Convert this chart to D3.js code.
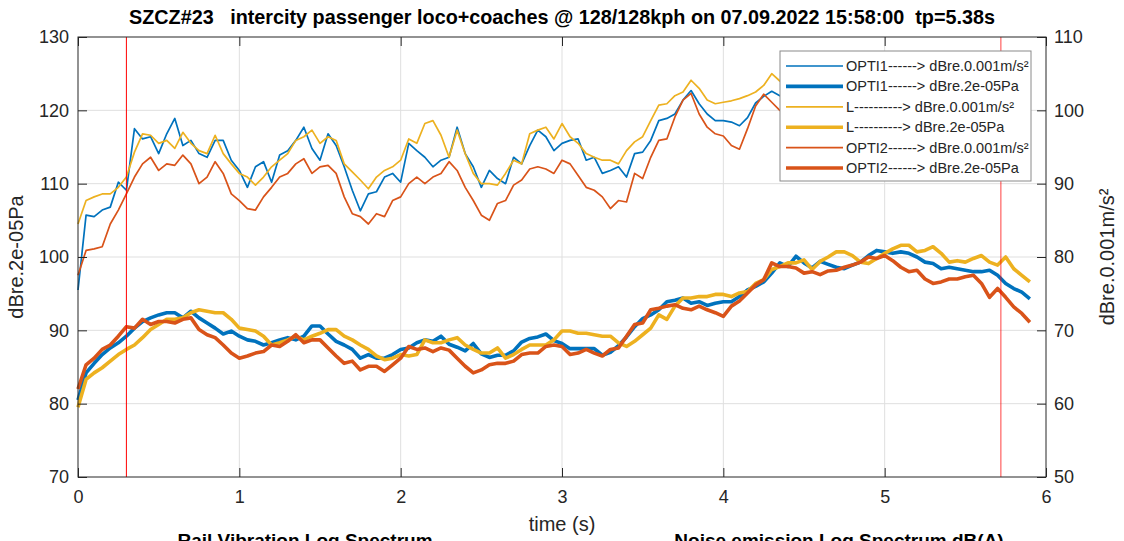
<!DOCTYPE html>
<html lang="en">
<head>
<meta charset="UTF-8">
<script src="https://cdn.jsdelivr.net/npm/d3@7/dist/d3.min.js"></script>
<title>SZCZ#23 levels</title>
<style>
  body { margin: 0; background: #ffffff; }
  svg { font-family: "Liberation Sans", Arial, sans-serif; background: #ffffff; }
  .grid line { stroke: #dfdfdf; stroke-width: 1; }
  .axis text { font-size: 18px; fill: #262626; }
  .axis line { stroke: #262626; }
  .axis path { display: none; }
</style>
</head>
<body>
<div id="chart"></div>
<script>
// sampling step of the traces (s)
var dt = 0.05;

// dBre.0.001m/s² (right axis)
var opti1Vib = [75.5, 85.7, 85.5, 86.4, 86.8, 90.2, 89.1, 97.5, 96.1, 96.4,
  94.1, 96.8, 98.9, 95.2, 95.9, 94.1, 93.6, 95.9, 95.9, 93.2,
  91.8, 89.5, 92.3, 93.0, 90.2, 93.9, 94.5, 95.9, 97.7, 94.8,
  93.2, 96.8, 95.2, 92.3, 89.1, 86.3, 88.6, 88.9, 90.9, 91.4,
  90.2, 95.5, 94.5, 93.6, 92.3, 93.2, 93.6, 97.7, 94.1, 92.3,
  89.5, 91.8, 90.7, 90.0, 93.6, 92.7, 95.2, 97.3, 96.4, 94.5,
  95.5, 95.9, 96.1, 93.2, 93.6, 91.4, 91.8, 92.3, 90.9, 94.1,
  94.3, 95.9, 98.6, 98.9, 99.5, 101.4, 102.7, 100.9, 99.5, 98.6,
  98.6, 98.4, 97.9, 99.0, 101.0, 101.9, 102.6, 102.0, 101.5, 101.0,
  100.5, 101.2, 100.8, 100.0, 99.5, 100.2, 100.8, 101.0, 100.5, 100.0,
  99.6, 99.0, 99.4, 99.8, 99.2, 98.6, 98.9, 99.2, 98.7, 98.2,
  97.8, 98.0, 97.6, 97.2, 97.0, 96.8, 96.5, 96.3, 96.1];
var lVib = [84.5, 87.7, 88.2, 88.6, 88.6, 89.5, 90.9, 94.3, 96.8, 96.6,
  95.5, 95.9, 94.8, 97.0, 95.5, 94.5, 94.1, 96.6, 94.1, 92.7,
  91.4, 90.9, 89.8, 90.9, 92.3, 93.2, 94.1, 95.9, 96.4, 97.3,
  95.5, 96.4, 95.9, 92.7, 91.6, 90.5, 89.3, 90.9, 91.8, 92.3,
  93.2, 96.1, 95.5, 98.2, 98.6, 96.6, 93.6, 97.3, 94.1, 91.4,
  90.0, 90.0, 89.8, 91.4, 93.2, 92.7, 96.8, 97.3, 97.7, 96.1,
  98.2, 96.4, 95.5, 94.1, 93.6, 93.2, 93.2, 92.7, 94.5, 95.7,
  96.4, 98.6, 100.7, 100.9, 102.0, 102.5, 104.1, 103.0, 101.4, 100.9,
  101.1, 101.3, 101.6, 102.0, 102.5, 103.4, 105.0, 104.0, 103.2, 102.5,
  103.0, 102.4, 101.8, 101.5, 102.0, 102.6, 102.0, 101.5, 101.0, 101.4,
  100.8, 100.2, 100.6, 101.0, 100.4, 99.8, 100.0, 100.3, 99.6, 99.2,
  99.5, 99.0, 98.6, 98.8, 98.4, 98.0, 97.8, 97.6, 97.5];
var opti2Vib = [77.5, 80.9, 81.1, 81.4, 84.5, 86.4, 88.6, 90.9, 92.7, 93.6,
  91.8, 92.7, 92.5, 93.9, 92.7, 90.0, 90.9, 93.0, 91.4, 88.6,
  87.7, 86.6, 86.4, 88.2, 89.5, 90.9, 91.4, 92.7, 93.4, 91.4,
  92.3, 92.5, 91.4, 88.2, 85.9, 85.5, 84.5, 85.9, 85.5, 87.7,
  88.2, 90.0, 90.9, 90.0, 90.9, 91.4, 93.0, 91.8, 89.5, 87.7,
  85.7, 85.0, 87.3, 87.7, 89.8, 90.5, 92.0, 92.3, 92.0, 91.4,
  93.2, 92.7, 91.1, 89.5, 89.1, 88.2, 86.6, 87.7, 87.5, 91.4,
  90.7, 93.6, 95.9, 96.1, 99.1, 101.4, 102.3, 99.5, 97.7, 96.8,
  96.5, 95.2, 94.7, 97.5, 100.6, 102.2, 101.1, 100.0, 99.2, 98.5,
  97.8, 98.4, 97.6, 97.0, 96.5, 97.2, 97.8, 97.4, 96.8, 96.0,
  95.4, 95.8, 96.2, 95.6, 95.0, 94.6, 95.0, 94.4, 93.8, 94.2,
  93.6, 93.0, 92.6, 92.9, 92.4, 91.9, 91.6, 91.3, 91.1];

// dBre.2e-05Pa (left axis)
var opti1Noise = [80.5, 84.2, 85.5, 86.7, 87.6, 88.3, 89.2, 90.3, 91.2, 91.7,
  92.1, 92.4, 92.4, 91.7, 92.6, 91.7, 91.0, 90.3, 89.5, 89.9,
  89.2, 88.7, 88.5, 88.0, 88.3, 88.7, 89.0, 88.7, 89.2, 90.6,
  90.6, 89.5, 88.5, 88.0, 87.4, 86.2, 86.7, 86.2, 86.2, 86.7,
  87.4, 87.6, 88.3, 88.7, 88.5, 89.2, 88.1, 87.7, 87.2, 88.2,
  86.8, 86.3, 86.6, 86.6, 87.2, 88.4, 88.9, 89.1, 89.5, 88.6,
  88.2, 87.5, 87.5, 87.5, 87.5, 86.6, 87.0, 87.9, 89.1, 90.5,
  91.6, 92.1, 92.8, 93.9, 94.1, 94.4, 93.7, 93.9, 93.4, 93.7,
  93.9, 93.9, 94.6, 95.5, 96.0, 96.6, 97.8, 99.2, 98.7, 100.1,
  99.2, 98.5, 99.4, 99.0, 98.6, 98.4, 98.9, 99.3, 100.2, 100.9,
  100.7, 100.5, 100.7, 100.5, 100.0, 99.3, 99.1, 98.4, 98.6, 98.4,
  98.2, 98.0, 98.0, 98.2, 97.5, 96.4, 95.7, 95.2, 94.3];
var lNoise = [79.5, 83.3, 84.2, 84.9, 85.8, 86.7, 87.4, 88.0, 89.0, 90.1,
  90.8, 91.5, 91.5, 91.7, 92.4, 92.8, 92.6, 92.4, 92.4, 91.5,
  90.3, 90.1, 89.9, 89.2, 88.0, 88.3, 88.7, 89.2, 88.7, 89.2,
  89.6, 90.1, 90.1, 89.2, 88.7, 88.0, 87.4, 86.5, 86.0, 86.2,
  86.7, 86.5, 86.7, 88.7, 88.3, 88.3, 88.7, 89.0, 88.0, 87.4,
  86.9, 86.9, 87.6, 86.2, 86.7, 87.4, 88.0, 88.0, 88.0, 88.7,
  89.9, 89.9, 89.6, 89.6, 89.4, 89.2, 89.2, 88.3, 87.8, 88.5,
  89.4, 90.3, 92.1, 91.5, 93.3, 94.4, 94.4, 94.6, 94.6, 94.9,
  94.9, 94.6, 95.1, 95.3, 96.4, 96.9, 98.3, 98.7, 99.2, 99.2,
  99.6, 98.3, 99.4, 100.0, 100.7, 100.7, 100.2, 99.3, 99.1, 99.8,
  100.5, 101.1, 101.6, 101.6, 100.7, 100.9, 101.4, 100.5, 99.3, 99.5,
  99.3, 99.8, 100.2, 99.3, 98.9, 100.0, 98.4, 97.5, 96.6];
var opti2Noise = [82.0, 85.3, 86.2, 87.4, 88.0, 89.2, 90.5, 90.3, 91.5, 90.8,
  91.2, 91.2, 91.0, 91.5, 91.7, 90.1, 89.4, 89.0, 88.0, 86.9,
  86.2, 86.5, 86.9, 87.1, 88.0, 87.8, 88.5, 89.4, 88.3, 88.7,
  88.7, 87.6, 86.5, 85.5, 85.8, 84.6, 85.1, 85.1, 84.4, 85.3,
  86.2, 87.8, 87.4, 87.6, 87.1, 87.6, 87.3, 86.2, 85.1, 84.2,
  84.6, 85.3, 85.5, 85.5, 85.8, 86.7, 86.9, 86.9, 87.8, 88.0,
  87.8, 86.7, 86.9, 87.4, 86.9, 86.5, 87.4, 87.6, 89.2, 90.8,
  91.0, 92.8, 93.0, 93.3, 93.5, 93.0, 92.8, 93.3, 92.8, 92.4,
  91.9, 93.3, 94.0, 95.1, 96.2, 96.9, 99.2, 98.7, 98.7, 98.5,
  97.8, 98.0, 97.6, 98.1, 98.2, 98.6, 98.9, 99.3, 100.0, 99.8,
  100.2, 99.5, 98.6, 98.0, 98.2, 97.0, 96.4, 96.6, 97.0, 97.0,
  97.3, 97.5, 96.4, 94.5, 95.7, 94.5, 93.2, 92.3, 91.1];

// window markers (s)
var markers = [0.30, 5.72];

var xTicks = [0, 1, 2, 3, 4, 5, 6];
var yLeftTicks = [70, 80, 90, 100, 110, 120, 130];
var yRightTicks = [50, 60, 70, 80, 90, 100, 110];

var legendLabels = [
  "OPTI1------> dBre.0.001m/s\u00b2",
  "OPTI1------> dBre.2e-05Pa",
  "L----------> dBre.0.001m/s\u00b2",
  "L----------> dBre.2e-05Pa",
  "OPTI2------> dBre.0.001m/s\u00b2",
  "OPTI2------> dBre.2e-05Pa"
];

var blue = "#0072BD", orange = "#D95319", yellow = "#EDB120";

var series = [
  {values: opti1Vib, axis: "right", color: blue, width: 1.7},
  {values: opti1Noise, axis: "left", color: blue, width: 3.6},
  {values: lVib, axis: "right", color: yellow, width: 1.7},
  {values: lNoise, axis: "left", color: yellow, width: 3.6},
  {values: opti2Vib, axis: "right", color: orange, width: 1.7},
  {values: opti2Noise, axis: "left", color: orange, width: 3.6}
];

var W = 1124, H = 541;
var margin = {top: 37, right: 78, bottom: 64, left: 78};
var width = W - margin.left - margin.right;
var height = H - margin.top - margin.bottom;

var svg = d3.select("#chart").append("svg")
  .attr("width", W)
  .attr("height", H);

var g = svg.append("g")
  .attr("transform", "translate(" + margin.left + "," + margin.top + ")");

var x = d3.scaleLinear().domain([0, 6]).range([0, width]);
var yL = d3.scaleLinear().domain([70, 130]).range([height, 0]);
var yR = d3.scaleLinear().domain([50, 110]).range([height, 0]);

// grid
var grid = g.append("g").attr("class", "grid");
grid.selectAll(".gx").data(xTicks.slice(1, -1)).enter().append("line")
  .attr("x1", function(d) { return x(d); })
  .attr("x2", function(d) { return x(d); })
  .attr("y1", 0).attr("y2", height);
grid.selectAll(".gy").data(yLeftTicks.slice(1, -1)).enter().append("line")
  .attr("x1", 0).attr("x2", width)
  .attr("y1", function(d) { return yL(d); })
  .attr("y2", function(d) { return yL(d); });

// traces
series.forEach(function(s) {
  var yy = s.axis == "left" ? yL : yR;
  var line = d3.line()
    .x(function(d, i) { return x(i * dt); })
    .y(function(d) { return yy(d); });
  g.append("path")
    .datum(s.values)
    .attr("fill", "none")
    .attr("stroke", s.color)
    .attr("stroke-width", s.width)
    .attr("stroke-linejoin", "round")
    .attr("d", line);
});

// red markers
g.selectAll(".marker").data(markers).enter().append("line")
  .attr("x1", function(d) { return x(d); })
  .attr("x2", function(d) { return x(d); })
  .attr("y1", 0).attr("y2", height)
  .attr("stroke", "#ff0000")
  .attr("stroke-width", function(d, i) { return i == 0 ? 1 : 1.5; })
  .attr("stroke-opacity", function(d, i) { return i == 0 ? 1 : 0.5; });

// axes (ticks pointing inward)
g.append("g").attr("class", "axis")
  .attr("transform", "translate(0," + height + ")")
  .call(d3.axisBottom(x).tickValues(xTicks).tickFormat(d3.format("d"))
    .tickSizeInner(-9).tickSizeOuter(0).tickPadding(13));
g.append("g").attr("class", "axis")
  .call(d3.axisTop(x).tickValues(xTicks).tickFormat("")
    .tickSizeInner(-9).tickSizeOuter(0));
g.append("g").attr("class", "axis")
  .call(d3.axisLeft(yL).tickValues(yLeftTicks).tickFormat(d3.format("d"))
    .tickSizeInner(-9).tickSizeOuter(0).tickPadding(9));
g.append("g").attr("class", "axis")
  .attr("transform", "translate(" + width + ",0)")
  .call(d3.axisRight(yR).tickValues(yRightTicks).tickFormat(d3.format("d"))
    .tickSizeInner(-9).tickSizeOuter(0).tickPadding(8));

// box
g.append("rect")
  .attr("width", width).attr("height", height)
  .attr("fill", "none")
  .attr("stroke", "#262626")
  .attr("stroke-width", 1);

// legend
var leg = svg.append("g").attr("transform", "translate(780,51)");
leg.append("rect")
  .attr("width", 251).attr("height", 130)
  .attr("fill", "#ffffff")
  .attr("stroke", "#8a8a8a")
  .attr("stroke-width", 1);
legendLabels.forEach(function(lab, i) {
  var yy = 15 + i * 20.4;
  leg.append("line")
    .attr("x1", 6).attr("x2", 63)
    .attr("y1", yy).attr("y2", yy)
    .attr("stroke", series[i].color)
    .attr("stroke-width", series[i].width);
  leg.append("text")
    .attr("x", 66).attr("y", yy)
    .attr("dy", "0.35em")
    .style("font-size", "14.5px")
    .style("fill", "#262626")
    .text(lab);
});

// titles and labels
svg.append("text")
  .attr("x", margin.left + width / 2).attr("y", 24)
  .style("text-anchor", "middle")
  .style("font-size", "19.8px")
  .style("font-weight", "bold")
  .style("fill", "#000")
  .attr("xml:space", "preserve")
  .text("SZCZ#23   intercity passenger loco+coaches @ 128/128kph on 07.09.2022 15:58:00  tp=5.38s");

svg.append("text")
  .attr("x", margin.left + width / 2).attr("y", 531)
  .style("text-anchor", "middle")
  .style("font-size", "20px")
  .style("fill", "#262626")
  .text("time (s)");

svg.append("text")
  .attr("transform", "translate(23," + (margin.top + height / 2) + ")rotate(-90)")
  .style("text-anchor", "middle")
  .style("font-size", "20px")
  .style("fill", "#262626")
  .text("dBre.2e-05Pa");

svg.append("text")
  .attr("transform", "translate(1114," + (margin.top + height / 2) + ")rotate(-90)")
  .style("text-anchor", "middle")
  .style("font-size", "20px")
  .style("fill", "#262626")
  .text("dBre.0.001m/s\u00b2");

// subplot titles underneath (cut by the figure edge, as in the source figure)
svg.append("text")
  .attr("x", 305).attr("y", 547)
  .style("text-anchor", "middle")
  .style("font-size", "19px")
  .style("font-weight", "bold")
  .text("Rail Vibration Log Spectrum");

svg.append("text")
  .attr("x", 839).attr("y", 547)
  .style("text-anchor", "middle")
  .style("font-size", "19px")
  .style("font-weight", "bold")
  .text("Noise emission Log Spectrum dB(A)");
</script>
</body>
</html>
